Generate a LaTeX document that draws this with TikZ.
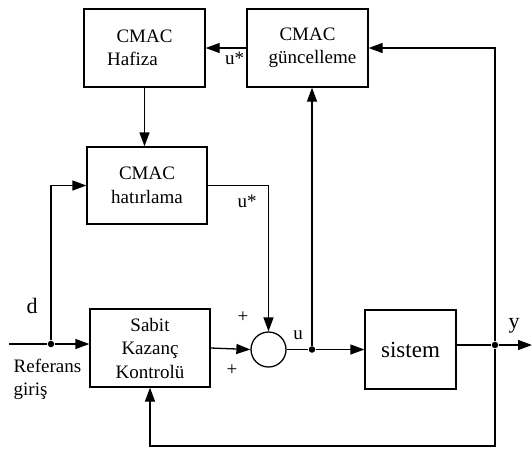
\documentclass[tikz,border=0pt]{standalone}
\usepackage{fontspec}
\setmainfont{Liberation Serif}
\usetikzlibrary{arrows.meta}
\begin{document}
\begin{tikzpicture}[x=1pt,y=-1pt,
  line width=1.3pt,
  >={Triangle[length=14pt,width=10pt]},
  blk/.style={draw, align=center, inner sep=0pt,
    font=\fontsize{19}{23.5}\selectfont},
  sumnode/.style={draw, circle, minimum size=35pt, inner sep=0pt},
  dot/.style={circle, fill, minimum size=6.5pt, inner sep=0pt},
  lbl/.style={inner sep=0pt, font=\fontsize{19}{22}\selectfont},
  biglbl/.style={inner sep=0pt, font=\fontsize{22}{24}\selectfont}]
  \useasboundingbox (0,0) rectangle (532,448);

  % blocks
  \node[blk, minimum width=121pt, minimum height=78pt] (haf) at (144.5,48) {CMAC\\Hafiza\hspace*{24pt}};
  \node[blk, minimum width=121pt, minimum height=78pt] (gun) at (307.5,48) {CMAC\\\hspace*{10pt}güncelleme};
  \node[blk, minimum width=120pt, minimum height=77pt] (hat) at (147,185.5) {CMAC\\hatırlama};
  \node[blk, minimum width=120pt, minimum height=78pt] (sab) at (150,348) {Sabit\\Kazanç\\Kontrolü};
  \node[sumnode] (sum) at (268.5,349.5) {};
  \node[blk, minimum width=91pt, minimum height=79pt,
        font=\fontsize{23}{26}\selectfont] (sis) at (410.5,349.5) {sistem};

  % branch points and free ends
  \coordinate (in) at (9,344);
  \node[dot] (jd) at (51,344) {};
  \node[dot] (ju) at (312,349.5) {};
  \node[dot] (jy) at (495,345) {};
  \coordinate (out) at (532,345);
  \coordinate (bot) at (495,446);

  % signal paths
  \draw[->] (gun.west) -- (haf.east);
  \draw[->] (haf.south) -- (haf.south |- hat.north);
  \draw (in) -- (jd);
  \draw[->] (jd) -- (jd -| sab.west);
  \draw[->] (jd) |- (hat.west);
  \draw[->] (hat.east) -| (sum.north);
  \draw[->] (sab.east) -- (sum.west);
  \draw (sum.east) -- (ju);
  \draw[->] (ju) -- (sis.west);
  \draw[->] (ju) -- (ju |- gun.south);
  \draw (sis.east |- jy) -- (jy);
  \draw[->] (jy) -- (out);
  \draw[->] (jy) |- (gun.east);
  \draw[->] (jy) -- (bot) -| (sab.south);

  % signal labels
  \node[lbl] (lus1) at (234.5,58) {u*};
  \node[lbl] (lus2) at (247,201) {u*};
  \node[lbl] (lp1) at (243,317) {+};
  \node[lbl] (lp2) at (232,370) {+};
  \node[lbl] (lu) at (298,335) {u};
  \node[biglbl] (ly) at (514,326) {y};
  \node[biglbl] (ld) at (32,306) {d};
  \node[lbl, anchor=north west, align=left, font=\fontsize{19}{23}\selectfont] (lref) at (13,358) {Referans\\giriş};
\end{tikzpicture}
\end{document}
